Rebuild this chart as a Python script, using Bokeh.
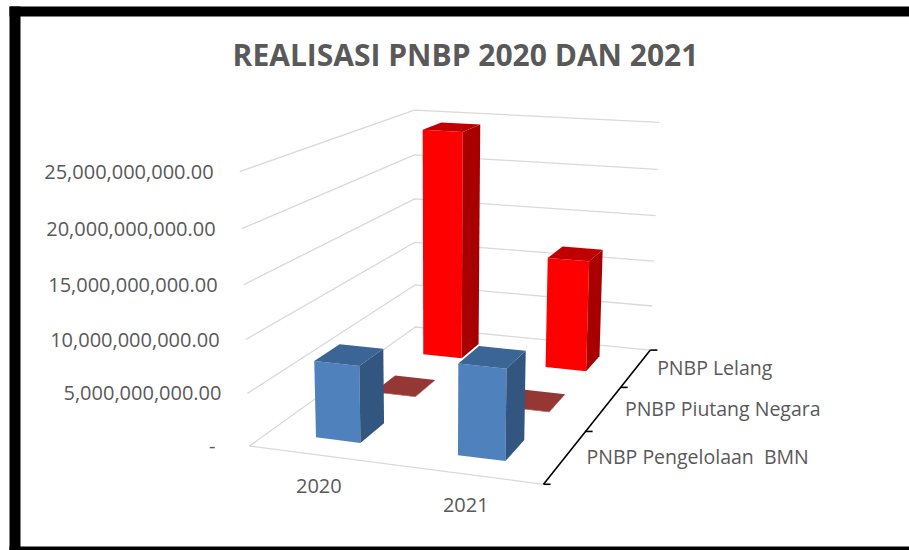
import numpy as np
from bokeh.plotting import figure
from bokeh.models import Range1d, ColumnDataSource
from bokeh.core.properties import value
from bokeh.embed import file_html
from bokeh.resources import INLINE

# ---- data ----
TITLE = "REALISASI PNBP 2020 DAN 2021"
years = ["2020", "2021"]
series = ["PNBP Pengelolaan\u00a0 BMN", "PNBP Piutang Negara", "PNBP Lelang"]
pengelolaan_bmn = [7.3e9, 8.5e9]
piutang_negara = [5.0e7, 5.0e7]
lelang = [24.4e9, 11.8e9]
y_ticks = [0, 5e9, 10e9, 15e9, 20e9, 25e9]
y_tick_labels = ["-", "5,000,000,000.00", "10,000,000,000.00", "15,000,000,000.00",
                 "20,000,000,000.00", "25,000,000,000.00"]
series_values = [pengelolaan_bmn, piutang_negara, lelang]

# ---- camera: projective map from the chart's box (x 0-1, value, depth 0-1) to the page ----
Y_MAX = 25e9
cal = [
    (0, 0, 0, 249.3, 445), (1, 0, 0, 543.3, 484), (1, 0, 1, 650, 349), (0, 0, 1, 414.3, 326.7),
    (1, 0, 1/3, 585, 431), (1, 0, 2/3, 620, 386.7),
    (0, .2, 0, 246.7, 393.3), (0, .4, 0, 245, 339), (0, .6, 0, 243.3, 284.3), (0, .8, 0, 241, 228.3), (0, 1, 0, 239, 171),
    (0, .2, 1, 414.3, 284.3), (0, .4, 1, 414.3, 241.7), (0, .6, 1, 414.3, 199), (0, .8, 1, 414.3, 154.3), (0, 1, 1, 414.3, 109.3),
    (1, .2, 1, 651.7, 306), (1, .4, 1, 654, 261), (1, .6, 1, 655.3, 215), (1, .8, 1, 656.7, 169), (1, 1, 1, 658.3, 121.7),
]
A = []
for X, Y, Z, u, w in cal:
    A.append([X, Y, Z, 1, 0, 0, 0, 0, -u*X, -u*Y, -u*Z, -u])
    A.append([0, 0, 0, 0, X, Y, Z, 1, -w*X, -w*Y, -w*Z, -w])
P = np.linalg.svd(np.array(A))[2][-1].reshape(3, 4)

def proj(x, v, z):
    h = P @ np.array([x, v / Y_MAX, z, 1.0])
    return h[0] / h[2], h[1] / h[2]

def poly(corners):
    pts = [proj(*c) for c in corners]
    return [p[0] for p in pts], [p[1] for p in pts]

# ---- figure whose data coordinates are page pixels ----
W, H = 909, 550
p = figure(width=W, height=H, output_backend="svg", toolbar_location=None,
           x_range=Range1d(0, W), y_range=Range1d(H, 0),
           min_border=0, outline_line_color=None, background_fill_color="white",
           border_fill_color="white")
p.axis.visible = False
p.grid.visible = False

# picture frame
p.quad(left=[9, 9, 9], right=[W, 20, W], top=[6, 6, 546], bottom=[16, H, H],
       fill_color="black", line_color=None)

# walls and floor
GRID = "#D9D9D9"
xs, ys = [], []
for t in y_ticks:
    a = proj(0, t, 0); b = proj(0, t, 1); c = proj(1, t, 1)
    xs.append([a[0], b[0], c[0]]); ys.append([a[1], b[1], c[1]])
a = proj(0, 0, 0); b = proj(1, 0, 0)
xs.append([a[0], b[0]]); ys.append([a[1], b[1]])
p.multi_line(xs, ys, line_color=GRID, line_width=1.3)

# depth axis
a = proj(1, 0, 0); b = proj(1, 0, 1)
axis_x, axis_y = [[a[0], b[0]]], [[a[1], b[1]]]
for j in range(len(series) + 1):
    q = proj(1, 0, j / len(series))
    axis_x.append([q[0], q[0] + 7]); axis_y.append([q[1], q[1]])
p.multi_line(axis_x, axis_y, line_color="black", line_width=1.6)

# bars, back row first
HX, HZ = 0.08, 0.068
face_colors = [
    ("#4F81BD", "#335680", "#3A6595"),
    ("#953735", "#7A2C2A", "#953735"),
    ("#FF0000", "#A80000", "#C00000"),
]
face_x, face_y, face_c = [], [], []
for j in reversed(range(len(series))):
    zc = (j + .5) / len(series)
    for i in range(len(years)):
        xc = (i + .5) / len(years)
        v = series_values[j][i]
        x0, x1, z0, z1 = xc - HX, xc + HX, zc - HZ, zc + HZ
        front, side, top = face_colors[j]
        for corners, col in [
            ([(x0, 0, z0), (x1, 0, z0), (x1, v, z0), (x0, v, z0)], front),
            ([(x1, 0, z0), (x1, 0, z1), (x1, v, z1), (x1, v, z0)], side),
            ([(x0, v, z0), (x1, v, z0), (x1, v, z1), (x0, v, z1)], top),
        ]:
            px, py = poly(corners)
            face_x.append(px); face_y.append(py); face_c.append(col)
p.patches(xs="x", ys="y", fill_color="c", line_color=None,
          source=ColumnDataSource(dict(x=face_x, y=face_y, c=face_c)))

# texts
TXT = "#595959"
FONT = value("Open Sans")
p.text([465], [53.5], text=[TITLE], text_font=FONT, text_font_style="bold", text_font_size="30px",
       text_color=TXT, text_align="center", text_baseline="middle")
tx, ty = [], []
for t, lab in zip(y_ticks, y_tick_labels):
    q = proj(0, t, 0)
    tx.append(q[0] - (34 if lab == "-" else 26)); ty.append(q[1])
p.text(tx, ty, text=y_tick_labels, text_font=FONT, text_font_size="20px", text_color=TXT,
       text_align="right", text_baseline="middle")
cx, cy = [], []
for i in range(len(years)):
    q = proj((i + .5) / len(years), 0, 0)
    cx.append(q[0] - 0.5); cy.append(q[1] + 31)
p.text(cx, cy, text=years, text_font=FONT, text_font_size="20px", text_color=TXT,
       text_align="center", text_baseline="middle")
sx, sy = [], []
for j in range(len(series)):
    q = proj(1, 0, (j + .5) / len(series))
    sx.append(q[0] + 21); sy.append(q[1])
p.text(sx, sy, text=series, text_font=FONT, text_font_size="19.5px", text_color=TXT,
       text_align="left", text_baseline="middle")

open("out.html", "w").write(file_html(p, INLINE))
